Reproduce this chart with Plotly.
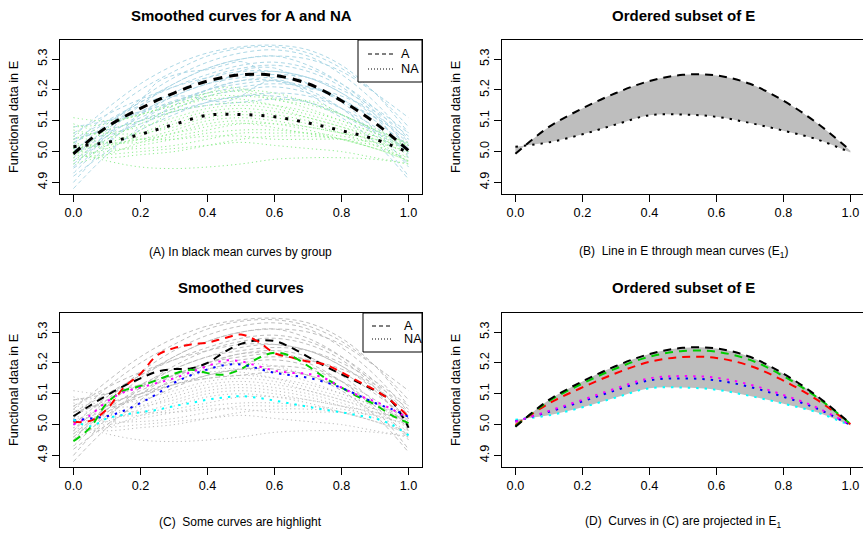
import plotly.graph_objects as go

W, H = 863, 536

# ---------------- data ----------------
t_grid = [0.0, 0.1, 0.2, 0.3, 0.4, 0.5, 0.6, 0.7, 0.8, 0.9, 1.0]
t_fine = [0.0, 0.05, 0.1, 0.15, 0.2, 0.25, 0.3, 0.35, 0.4, 0.45, 0.5,
          0.55, 0.6, 0.65, 0.7, 0.75, 0.8, 0.85, 0.9, 0.95, 1.0]

# smoothed curves, group A
curves_A = [
    [5.05, 5.14, 5.22, 5.28, 5.32, 5.34, 5.345, 5.33, 5.28, 5.19, 5.06],
    [5.02, 5.12, 5.20, 5.26, 5.31, 5.335, 5.34, 5.32, 5.27, 5.19, 5.08],
    [4.98, 5.08, 5.17, 5.24, 5.29, 5.32, 5.33, 5.31, 5.25, 5.16, 5.04],
    [5.04, 5.10, 5.16, 5.22, 5.27, 5.30, 5.31, 5.30, 5.26, 5.19, 5.11],
    [4.95, 5.06, 5.15, 5.22, 5.27, 5.30, 5.31, 5.28, 5.22, 5.13, 5.01],
    [5.00, 5.09, 5.16, 5.21, 5.25, 5.28, 5.29, 5.27, 5.22, 5.14, 5.03],
    [4.90, 5.02, 5.12, 5.19, 5.24, 5.27, 5.28, 5.26, 5.21, 5.12, 4.98],
    [5.06, 5.12, 5.17, 5.21, 5.24, 5.26, 5.26, 5.24, 5.19, 5.12, 5.04],
    [4.97, 5.05, 5.12, 5.18, 5.22, 5.25, 5.26, 5.24, 5.19, 5.11, 5.00],
    [5.03, 5.08, 5.13, 5.18, 5.22, 5.24, 5.25, 5.24, 5.20, 5.14, 5.06],
    [4.93, 5.03, 5.10, 5.16, 5.20, 5.23, 5.24, 5.22, 5.16, 5.07, 4.95],
    [5.01, 5.06, 5.11, 5.16, 5.20, 5.22, 5.23, 5.21, 5.17, 5.10, 5.02],
    [4.88, 4.99, 5.08, 5.15, 5.20, 5.23, 5.23, 5.20, 5.14, 5.05, 4.92],
    [5.08, 5.10, 5.13, 5.16, 5.19, 5.21, 5.22, 5.21, 5.18, 5.13, 5.05],
    [4.96, 5.04, 5.10, 5.14, 5.18, 5.20, 5.21, 5.19, 5.14, 5.06, 4.96],
    [5.00, 5.05, 5.09, 5.13, 5.16, 5.18, 5.19, 5.18, 5.14, 5.08, 5.00],
    [4.92, 5.00, 5.07, 5.12, 5.16, 5.18, 5.18, 5.16, 5.11, 5.03, 4.91],
    [5.04, 5.07, 5.10, 5.13, 5.15, 5.16, 5.17, 5.16, 5.12, 5.07, 5.00],
]

# smoothed curves, group NA
curves_NA = [
    [5.11, 5.10, 5.12, 5.16, 5.19, 5.20, 5.19, 5.16, 5.12, 5.07, 5.02],
    [5.08, 5.09, 5.12, 5.15, 5.18, 5.18, 5.17, 5.14, 5.10, 5.06, 5.01],
    [5.04, 5.07, 5.10, 5.14, 5.17, 5.17, 5.15, 5.12, 5.09, 5.05, 5.00],
    [4.99, 5.04, 5.09, 5.13, 5.15, 5.16, 5.15, 5.13, 5.10, 5.06, 5.03],
    [5.06, 5.06, 5.08, 5.11, 5.14, 5.15, 5.14, 5.11, 5.08, 5.04, 4.99],
    [5.02, 5.03, 5.06, 5.10, 5.13, 5.14, 5.13, 5.11, 5.08, 5.05, 5.02],
    [4.97, 5.01, 5.05, 5.09, 5.12, 5.13, 5.12, 5.10, 5.07, 5.03, 4.98],
    [5.09, 5.06, 5.06, 5.08, 5.11, 5.12, 5.11, 5.09, 5.06, 5.02, 4.97],
    [5.01, 5.02, 5.04, 5.07, 5.10, 5.11, 5.10, 5.08, 5.06, 5.04, 5.02],
    [4.96, 4.99, 5.03, 5.06, 5.09, 5.10, 5.09, 5.07, 5.04, 5.01, 4.97],
    [5.05, 5.03, 5.03, 5.05, 5.07, 5.09, 5.09, 5.08, 5.06, 5.04, 5.01],
    [5.00, 5.00, 5.02, 5.04, 5.06, 5.07, 5.07, 5.06, 5.04, 5.01, 4.98],
    [5.03, 5.01, 5.01, 5.02, 5.04, 5.06, 5.06, 5.06, 5.05, 5.03, 5.00],
    [4.98, 4.99, 5.00, 5.01, 5.02, 5.03, 5.02, 5.01, 5.00, 4.98, 4.96],
    [5.00, 4.97, 4.95, 4.945, 4.95, 4.96, 4.975, 4.98, 4.98, 4.975, 4.96],
    [5.07, 5.05, 5.04, 5.04, 5.05, 5.05, 5.04, 5.04, 5.04, 5.03, 5.00],
    [4.99, 4.98, 4.99, 5.00, 5.02, 5.04, 5.05, 5.05, 5.04, 5.01, 4.97],
]

# group mean curves
mean_A = [4.993, 5.08, 5.14, 5.19, 5.229, 5.249, 5.247, 5.22, 5.165, 5.093, 5.003]
mean_NA = [5.016, 5.03, 5.056, 5.088, 5.118, 5.12, 5.113, 5.093, 5.068, 5.04, 4.997]

# highlighted curves (panel C)
hl_colors = ["black", "#FF0000", "#00CD00", "#FF00FF", "#0000FF", "#00FFFF"]
hl_group = ["A", "A", "A", "NA", "NA", "NA"]
hl_black = [5.027, 5.062, 5.095, 5.125, 5.15, 5.172, 5.18, 5.182, 5.2, 5.235, 5.262,
            5.273, 5.271, 5.25, 5.22, 5.19, 5.163, 5.137, 5.11, 5.075, 4.99]
hl_red = [5.009, 5.012, 5.05, 5.12, 5.165, 5.225, 5.248, 5.26, 5.266, 5.28, 5.292,
          5.27, 5.232, 5.218, 5.205, 5.195, 5.17, 5.14, 5.112, 5.075, 5.025]
hl_green = [4.946, 4.99, 5.07, 5.11, 5.125, 5.145, 5.165, 5.178, 5.167, 5.162, 5.18,
            5.215, 5.233, 5.222, 5.19, 5.152, 5.12, 5.09, 5.065, 5.03, 5.005]
hl_magenta = [5.0, 5.03, 5.075, 5.105, 5.12, 5.135, 5.15, 5.17, 5.19, 5.208, 5.205,
              5.19, 5.175, 5.168, 5.165, 5.15, 5.12, 5.095, 5.075, 5.05, 5.02]
hl_blue = [5.013, 5.02, 5.027, 5.045, 5.07, 5.1, 5.135, 5.16, 5.179, 5.193, 5.195,
           5.182, 5.168, 5.16, 5.152, 5.138, 5.119, 5.095, 5.07, 5.05, 5.025]
hl_cyan = [5.016, 4.995, 5.02, 5.032, 5.04, 5.048, 5.06, 5.07, 5.081, 5.088, 5.092,
           5.087, 5.078, 5.068, 5.058, 5.048, 5.04, 5.03, 5.02, 5.0, 4.965]
hl_values = [hl_black, hl_red, hl_green, hl_magenta, hl_blue, hl_cyan]

# position of each highlighted curve on the line E1 (0 = NA mean, 1 = A mean)
hl_projection = [1.0, 0.77, 0.92, 0.29, 0.23, 0.0]

x_ticks = [0.0, 0.2, 0.4, 0.6, 0.8, 1.0]
y_ticks = [4.9, 5.0, 5.1, 5.2, 5.3]

# ---------------- layout helpers ----------------
FONT = "Liberation Sans, Arial, Helvetica, sans-serif"
Y_RANGE = [4.8625, 5.362]


def px_x(p):
    return p / W


def px_y(p):
    return 1 - p / H


panels = {
    # name: (left, right, top, bottom) in pixels, x range
    "A": (60, 422, 40, 194, [-0.04, 1.04]),
    "B": (502, 863, 40, 194, [-0.04, (863 - 515.4) / 335]),
    "C": (60, 422, 313, 467, [-0.04, 1.04]),
    "D": (502, 863, 313, 467, [-0.04, (863 - 515.4) / 335]),
}

fig = go.Figure()
axis_ids = {"A": ("x", "y"), "B": ("x2", "y2"), "C": ("x3", "y3"), "D": ("x4", "y4")}


def dash_style(group, width):
    if group == "A":
        return dict(dash=f"{4 * width}px,{3 * width}px", width=width)
    return dict(dash=f"{1.2 * width}px,{3 * width}px", width=width)


def add_line(panel, x, y, color, group, width, **kw):
    xa, ya = axis_ids[panel]
    line = dash_style(group, width)
    line.update(color=color, shape="spline", smoothing=1.0)
    fig.add_trace(go.Scatter(x=x, y=y, mode="lines", line=line, xaxis=xa, yaxis=ya,
                             showlegend=False, hoverinfo="skip", **kw))


# Panel A: all curves coloured by group, black group means on top
for c in curves_A:
    add_line("A", t_grid, c, "#ADD8E6", "A", 1)
for g, v in zip(hl_group, hl_values):
    add_line("A", t_fine, v, "#ADD8E6" if g == "A" else "#90EE90", g, 1)
for c in curves_NA:
    add_line("A", t_grid, c, "#90EE90", "NA", 1)
xa, ya = axis_ids["A"]
fig.add_trace(go.Scatter(x=t_grid, y=mean_A, mode="lines", xaxis=xa, yaxis=ya,
                         line=dict(color="black", width=3, dash="9px,7px", shape="spline"),
                         showlegend=False, hoverinfo="skip"))
fig.add_trace(go.Scatter(x=t_grid, y=mean_NA, mode="lines", xaxis=xa, yaxis=ya,
                         line=dict(color="black", width=3, dash="3px,9px", shape="spline"),
                         showlegend=False, hoverinfo="skip"))

# Panel B: region of E between the two mean curves
add_line("B", t_grid, mean_NA, "black", "NA", 2)
add_line("B", t_grid, mean_A, "black", "A", 2, fill="tonexty", fillcolor="#BEBEBE")

# Panel C: grey curves with a few highlighted
for c in curves_A:
    add_line("C", t_grid, c, "#BEBEBE", "A", 1)
for c in curves_NA:
    add_line("C", t_grid, c, "#BEBEBE", "NA", 1)
for col, g, v in zip(hl_colors, hl_group, hl_values):
    add_line("C", t_fine, v, col, g, 2)

# Panel D: highlighted curves projected onto E1
add_line("D", t_grid, mean_NA, "rgba(0,0,0,0)", "NA", 1)
add_line("D", t_grid, mean_A, "rgba(0,0,0,0)", "A", 1, fill="tonexty", fillcolor="#BEBEBE")
order = [5, 4, 3, 1, 2, 0]
for i in order:
    lam = hl_projection[i]
    proj = [n + lam * (a - n) for a, n in zip(mean_A, mean_NA)]
    add_line("D", t_grid, proj, hl_colors[i], hl_group[i], 2)

# axes
layout = dict(width=W, height=H, margin=dict(l=0, r=0, t=0, b=0),
              paper_bgcolor="white", plot_bgcolor="white",
              font=dict(family=FONT, size=12.7, color="black"))
for k, (panel, (l, r, t, b, xr)) in enumerate(panels.items(), start=1):
    sfx = "" if k == 1 else str(k)
    full_box = panel in ("A", "C")
    layout["xaxis" + sfx] = dict(
        domain=[px_x(l), px_x(r)], range=xr, anchor="y" + sfx,
        tickvals=x_ticks, ticktext=[f"{v:.1f}" for v in x_ticks],
        ticks="outside", ticklen=7, tickcolor="black", tickwidth=1,
        showline=True, linecolor="black", linewidth=1, mirror=True,
        showgrid=False, zeroline=False, tickfont=dict(size=12.7))
    layout["yaxis" + sfx] = dict(
        domain=[px_y(b), px_y(t)], range=Y_RANGE, anchor="x" + sfx,
        tickvals=y_ticks, ticktext=[f"{v:.1f}" for v in y_ticks],
        ticks="outside", ticklen=7, tickcolor="black", tickwidth=1,
        showline=True, linecolor="black", linewidth=1, mirror=full_box,
        showgrid=False, zeroline=False, tickangle=-90, tickfont=dict(size=12.7))
fig.update_layout(**layout)

annotations = []
titles = [("Smoothed curves for A and NA", 241, 15), ("Ordered subset of E", 683, 15),
          ("Smoothed curves", 241, 287), ("Ordered subset of E", 683, 287)]
for text, cx, cy in titles:
    annotations.append(dict(text=f"<b>{text}</b>", x=px_x(cx), y=px_y(cy), xref="paper",
                            yref="paper", showarrow=False, font=dict(size=15),
                            xanchor="center", yanchor="middle"))
subtitles = [("(A) In black mean curves by group", 240, 252),
             ("(B)  Line in E through mean curves (E<sub>1</sub>)", 683, 252),
             ("(C)  Some curves are highlight", 240, 522),
             ("(D)  Curves in (C) are projected in E<sub>1</sub>", 683, 522)]
for text, cx, cy in subtitles:
    annotations.append(dict(text=text, x=px_x(cx), y=px_y(cy), xref="paper", yref="paper",
                            showarrow=False, font=dict(size=12),
                            xanchor="center", yanchor="middle"))
for cx, cy in [(14, 117), (456, 117), (14, 390), (456, 390)]:
    annotations.append(dict(text="Functional data in E", x=px_x(cx), y=px_y(cy),
                            xref="paper", yref="paper", showarrow=False, textangle=-90,
                            font=dict(size=12.7), xanchor="center", yanchor="middle"))

# legends of panels A and C
shapes = []
for (bx0, by0, by1, ly1, ly2, sx0, sx1, tx) in [(358, 40, 82, 54, 69, 368, 393, 399),
                                                 (363, 313, 352, 326, 339, 372, 391, 402)]:
    shapes.append(dict(type="rect", xref="paper", yref="paper", x0=px_x(bx0), x1=px_x(422),
                       y0=px_y(by1), y1=px_y(by0), line=dict(color="black", width=1),
                       fillcolor="white", layer="above"))
    shapes.append(dict(type="line", xref="paper", yref="paper", x0=px_x(sx0), x1=px_x(sx1),
                       y0=px_y(ly1), y1=px_y(ly1), line=dict(color="black", width=1, dash="4px,3px")))
    shapes.append(dict(type="line", xref="paper", yref="paper", x0=px_x(sx0), x1=px_x(sx1),
                       y0=px_y(ly2), y1=px_y(ly2), line=dict(color="black", width=1, dash="1px,2px")))
    for label, ly in (("A", ly1), ("NA", ly2)):
        annotations.append(dict(text=label, x=px_x(tx), y=px_y(ly), xref="paper", yref="paper",
                                showarrow=False, xanchor="left", yanchor="middle",
                                font=dict(size=12.7)))

fig.update_layout(annotations=annotations, shapes=shapes)
fig.write_html("out.html")
